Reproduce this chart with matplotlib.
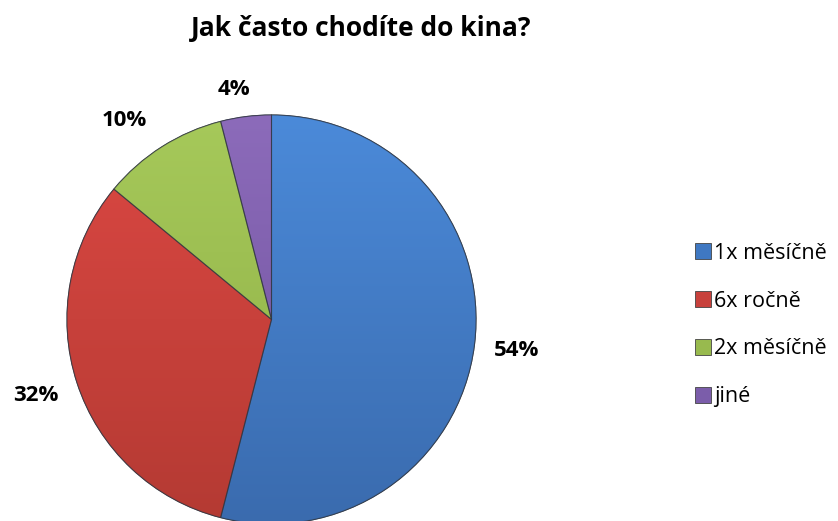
import numpy as np
import matplotlib
matplotlib.use('Agg')
import matplotlib.pyplot as plt
from matplotlib.colors import LinearSegmentedColormap
from matplotlib.patches import Patch, PathPatch

plt.rcParams['font.family'] = ['Open Sans', 'DejaVu Sans']

# odpovědi na otázku z dotazníku
labels = ['1x měsíčně', '6x ročně', '2x měsíčně', 'jiné']
values = [54, 32, 10, 4]
# (světlejší horní, tmavší spodní) odstín každé výseče
top_colors = ['#4B8AD9', '#DC4843', '#A6C95A', '#8C6BBA']
bottom_colors = ['#3A6BAE', '#B43A33', '#8EAE45', '#6E519C']
legend_colors = ['#3F78C2', '#C8413C', '#98BA4E', '#7B5DAA']
# posun popisků (vzdálenost v poloměrech, pootočení ve stupních)
label_dist = [1.21, 1.21, 1.21, 1.14]
label_rot = [0, 0, 4, 2]

W, H = 838, 521
fig = plt.figure(figsize=(W / 100, H / 100), dpi=100)
ax = fig.add_axes([0, 0, 1, 1])

cx, cy, r = 271.5, H - 319.5, 204.5

wedges, texts, autotexts = ax.pie(
    values, startangle=90, counterclock=False, center=(cx, cy), radius=r,
    colors=legend_colors, autopct=lambda p: f'{p:.0f}%', pctdistance=1.21,
    wedgeprops=dict(linewidth=0.8, edgecolor='#333a44'),
    textprops=dict(fontsize=16, fontweight='bold', color='black'))

# svislý přechod barvy uvnitř každé výseče
grad = np.linspace(0, 1, 256).reshape(-1, 1)
for w, c1, c2 in zip(wedges, top_colors, bottom_colors):
    cmap = LinearSegmentedColormap.from_list('g', [c1, c2])
    im = ax.imshow(grad, cmap=cmap, extent=[cx - r, cx + r, cy - r, cy + r],
                   origin='upper', aspect='auto', zorder=w.get_zorder() + 0.1)
    im.set_clip_path(w)
    edge = PathPatch(w.get_path(), fill=False, transform=w.get_transform(),
                     lw=0.8, edgecolor='#2f3540', alpha=0.6,
                     zorder=w.get_zorder() + 0.2)
    ax.add_patch(edge)

for w, t, d, rot in zip(wedges, autotexts, label_dist, label_rot):
    ang = np.deg2rad((w.theta1 + w.theta2) / 2 + rot)
    t.set_position((cx + d * r * np.cos(ang), cy + d * r * np.sin(ang)))

ax.set_xlim(0, W)
ax.set_ylim(0, H)
ax.set_aspect('equal')
ax.axis('off')

fig.text(361 / W, 1 - 28 / H, 'Jak často chodíte do kina?', ha='center',
         va='center', fontsize=19, fontweight='bold')

handles = [Patch(facecolor=c, edgecolor='#444444', linewidth=0.6)
           for c in legend_colors]
fig.legend(handles, labels, loc='center left',
           bbox_to_anchor=(686 / W, 1 - 325 / H), frameon=False,
           fontsize=15.5, handlelength=0.75, handleheight=0.75,
           handletextpad=0.15, labelspacing=1.25, borderaxespad=0)

fig.savefig('out.png', dpi=100)
